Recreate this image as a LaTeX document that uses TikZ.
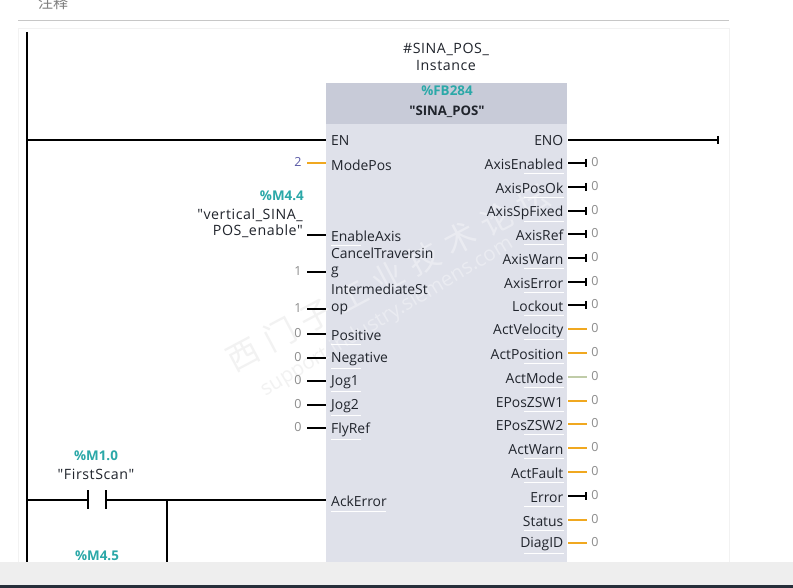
\documentclass[tikz,border=0pt]{standalone}
\usepackage{fontspec}
\newfontfamily\mainf{Open Sans}
\newfontfamily\operf[LetterSpace=4]{Open Sans}
\newfontfamily\cjk{Noto Sans CJK SC}
\newfontfamily\cjkwide[LetterSpace=28]{Noto Sans CJK SC}
\usetikzlibrary{arrows.meta}
\definecolor{teal1}{HTML}{2BA8A8}
\definecolor{blockbody}{HTML}{DFE1EA}
\definecolor{blockhead}{HTML}{C8CBD8}
\definecolor{wireor}{HTML}{F0A820}
\definecolor{wiregn}{HTML}{C0CCA8}
\definecolor{valgray}{HTML}{8C8C8C}
\definecolor{txt}{HTML}{20242C}
\definecolor{band}{HTML}{EEEEEE}
\definecolor{bar}{HTML}{262E3A}
\definecolor{faint}{HTML}{F2F2F2}
\tikzset{
  lbl/.style={font=\mainf\fontsize{13.9}{15}\selectfont,text=txt,inner sep=0pt},
  oper/.style={lbl,font=\operf\fontsize{14.2}{15}\selectfont},
  pinl/.style={lbl,anchor=west},
  pinr/.style={lbl,anchor=east},
  valr/.style={font=\mainf\fontsize{12.5}{14}\selectfont,text=valgray,inner sep=0pt},
  addr/.style={font=\mainf\fontsize{13.4}{15}\bfseries\selectfont,text=teal1,inner sep=0pt},
  wire/.style={line width=2pt,black},
  owire/.style={line width=2pt,wireor},
  gwire/.style={line width=2pt,wiregn},
  tick/.style={wire,-{Bar[width=8pt,line width=2pt]}},
  markA/.style={font=\cjkwide\fontsize{32}{36}\selectfont,inner sep=0pt,rotate=28},
  markB/.style={font=\mainf\fontsize{20.5}{22}\selectfont,inner sep=0pt,rotate=31},
  ul/.style={white,line width=0.8pt}
}
\begin{document}
\begin{tikzpicture}[x=1pt,y=-1pt]
\useasboundingbox (0,0) rectangle (793,588);
\fill[white] (0,0) rectangle (793,588);
% header
\node[lbl,anchor=west,font=\cjk\fontsize{15}{17}\selectfont,text=black!50] (note) at (38,3) {注释};
\coordinate (hl) at (18,20); \coordinate (hr) at (729,20);
\draw[black!22,line width=0.8pt] (hl) -- (hr);
\draw[faint,line width=0.8pt] (18,28) rectangle (729,562);
% block
\fill[blockbody] (326,83) rectangle (567,562);
\fill[blockhead] (326,83) rectangle (567,124);
% watermark
\begin{scope}
\clip (0,124) rectangle (326,562);
\node[markA,text=black!5] (wmAa) at (388,277) {西门子工业技术论坛};
\node[markB,text=black!5] (wmBa) at (387,317) {support.industry.siemens.com};
\end{scope}
\begin{scope}
\clip (326,124) rectangle (567,562);
\node[markA,text=white,opacity=.35] (wmAb) at (388,277) {西门子工业技术论坛};
\node[markB,text=white,opacity=.35] (wmBb) at (387,317) {support.industry.siemens.com};
\end{scope}
% rail
\coordinate (railt) at (27,32); \coordinate (railb) at (27,566);
\draw[wire] (railt) -- (railb);
% instance
\node[oper,align=center] (inst) at (446,57) {\#SINA\_POS\_\\[2.6pt]Instance};
\node[addr] (fb) at (447,91) {\%FB284};
\node[lbl,font=\mainf\fontsize{13.2}{15}\bfseries\selectfont] (fbname) at (447,112) {"SINA\_POS"};
% left side pins
\node[pinl] (en) at (331,141) {EN};
\coordinate (enp) at (326,140); \coordinate (enr) at (27,140);
\draw[wire] (enr) -- (enp);
\foreach \n/\t/\ly/\wy/\v in {
  enax/EnableAxis/236/235/,
  posi/Positive/335/334/0,
  nega/Negative/359/358/0,
  jgA/Jog1/382/381/0,
  jgB/Jog2/406/405/0,
  fly/FlyRef/430/428/0}{
  \node[pinl] (\n) at (331,\ly) {\t};
  \coordinate (\n p) at (326,\wy); \coordinate (\n w) at (307,\wy);
  \draw[wire] (\n w) -- (\n p);
  \node[valr] (\n v) at (298,\wy-1) {\v};
  \draw[ul] (331,\ly+9) -- +(30,0);
}
\node[pinl] (mode) at (331,165) {ModePos};
\coordinate (modep) at (326,163); \coordinate (modew) at (307,163);
\draw[owire] (modew) -- (modep);
\node[valr,text=blue!30!gray] (modev) at (298,162) {2};
\node[pinl,align=left] (canc) at (331,263) {CancelTraversin\\[1.5pt]g};
\coordinate (cancp) at (326,272); \coordinate (cancw) at (307,272);
\draw[wire] (cancw) -- (cancp);
\node[valr] (cancv) at (298,271) {1};
\node[pinl,align=left] (imm) at (331,299.5) {IntermediateSt\\[1.5pt]op};
\coordinate (immp) at (326,309); \coordinate (immw) at (307,309);
\draw[wire] (immw) -- (immp);
\node[valr] (immv) at (298,308) {1};
% operand M4.4
\node[addr,anchor=east] (m44) at (304,196) {\%M4.4};
\node[oper,anchor=east,align=right] (m44n) at (303,223.5) {"vertical\_SINA\_\\[1pt]POS\_enable"};
% right side pins
\foreach \n/\t/\wy/\k in {
  eA/AxisEnabled/163/w,
  eB/AxisPosOk/187/w,
  eC/AxisSpFixed/211/w,
  eD/AxisRef/234/w,
  eE/AxisWarn/258/w,
  eF/AxisError/282/w,
  eG/Lockout/305/w,
  eH/ActVelocity/329/o,
  eI/ActPosition/353/o,
  eJ/ActMode/377/g,
  eK/EPosZSW1/401/o,
  eL/EPosZSW2/424/o,
  eM/ActWarn/448/o,
  eN/ActFault/472/o,
  eO/Error/496/w,
  eP/Status/520/o,
  eQ/DiagID/543/o}{
  \node[pinr] (\n) at (563.5,\wy+1.5) {\t};
  \coordinate (\n p) at (568,\wy); \coordinate (\n w) at (587,\wy);
  \node[valr] (\n v) at (595,\wy-1) {0};
  \draw[ul] (563.5,\wy+10) -- +(-40,0);
  \if\k w\draw[tick] (\n p) -- (\n w);\fi
  \if\k o\draw[owire] (\n p) -- (\n w);\fi
  \if\k g\draw[gwire] (\n p) -- (\n w);\fi
}
\node[pinr] (eno) at (563.5,141) {ENO};
\coordinate (enop) at (568,140); \coordinate (enoe) at (719,140);
\draw[tick] (enop) -- (enoe);
% contact
\node[addr] (m10) at (96,456) {\%M1.0};
\node[oper] (m10n) at (96,474) {"FirstScan"};
\coordinate (cl) at (88,500); \coordinate (cr) at (105.5,500);
\coordinate (railc) at (27,500);
\coordinate (ack) at (326,500);
\coordinate (branch) at (167,500); \coordinate (branchb) at (167,566);
\draw[wire] (railc) -- (cl);
\draw[wire] (cl) ++(0,-10) -- ++(0,19);
\draw[wire] (cr) ++(0,-10) -- ++(0,19);
\draw[wire] (cr) -- (ack);
\draw[wire] (branch) -- (branchb);
\node[pinl] (ackl) at (331,501.5) {AckError};
\draw[ul] (331,511) -- +(55,0);
\node[addr] (m45) at (97,556) {\%M4.5};
% bottom band
\fill[band] (0,562) rectangle (793,585);
\fill[bar] (0,584.5) rectangle (793,588);
\end{tikzpicture}
\end{document}
